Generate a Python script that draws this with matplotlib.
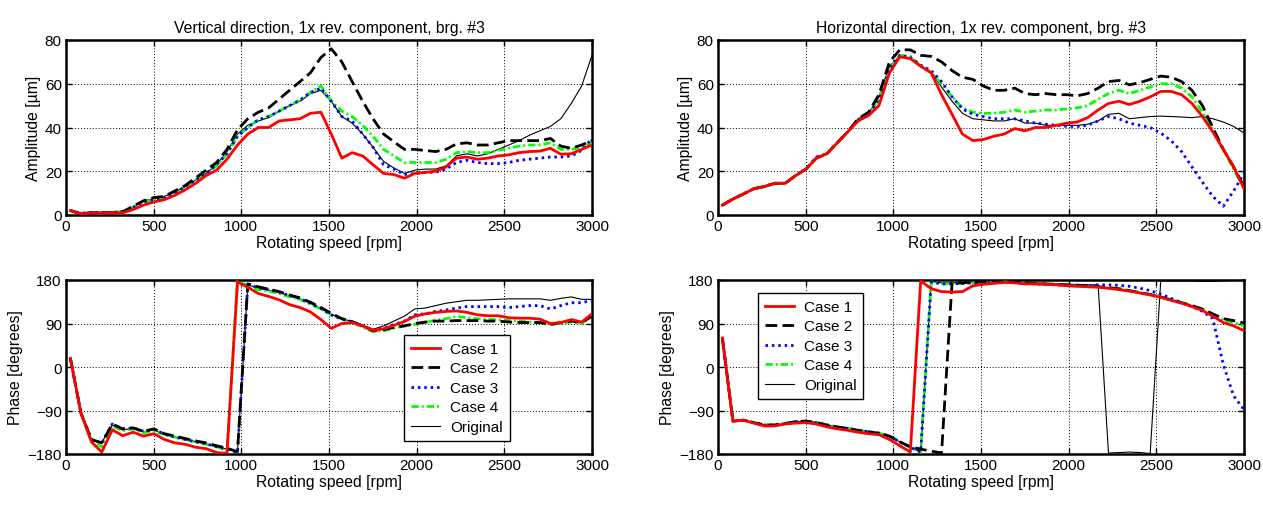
import matplotlib
matplotlib.use("Agg")
import matplotlib.pyplot as plt

plt.rcParams['font.family'] = ['Liberation Sans', 'DejaVu Sans']

# ---------------- data ----------------
rpm = [25, 85, 145, 204, 264, 323, 383, 442, 502, 561, 621, 680, 740, 799, 859,
       918, 978, 1037, 1097, 1156, 1216, 1275, 1335, 1394, 1454, 1513, 1573, 1632,
       1692, 1751, 1811, 1870, 1930, 1989, 2049, 2108, 2168, 2227, 2287, 2346, 2406,
       2465, 2525, 2584, 2644, 2703, 2763, 2822, 2882, 2941, 3000]

labels = ['Case 1', 'Case 2', 'Case 3', 'Case 4', 'Original']

# Vertical amplitude [um]
v_amp_c1 = [2, 0.5, 1, 1, 1, 1, 2.5, 4.5, 6, 7, 9, 11.5, 14.5, 18, 20.5, 25.5, 32, 37, 40, 40,
            43, 43.5, 44, 46.5, 47, 37, 26, 28.5, 27, 23, 19, 18.5, 16.8, 19, 19.5, 20, 22, 26,
            26.5, 25.5, 26, 27, 27.5, 28.5, 29, 29.2, 30.5, 27.8, 28, 30, 32]
v_amp_c2 = [2, 0.5, 1, 1, 1, 1.5, 4, 6.5, 8, 8.5, 11, 13.5, 17, 20.5, 24, 30, 39, 44, 47, 49,
            53, 57, 61, 65, 72, 76, 70, 61, 52, 44, 37, 33.5, 30, 30, 29.5, 29, 30, 32.5, 33,
            32, 32, 33, 34, 34, 34, 34, 35, 31.5, 30.5, 32, 34]
v_amp_c3 = [2, 0.8, 1.2, 1.2, 1.2, 1.5, 3.5, 6, 7, 8, 10, 13, 16, 19, 23, 28, 36, 40, 43.5, 45,
            47.5, 50, 52.5, 56, 58, 52, 45, 43, 37, 31, 23, 21, 18.5, 19, 19.5, 19.5, 21, 24,
            25, 24, 23.5, 23.5, 24, 25, 25.5, 26, 26.5, 26.5, 27, 29.5, 35]
v_amp_c4 = [2.2, 0.8, 1.2, 1.2, 1.2, 1.5, 3.5, 6, 7, 8, 10, 13, 16, 19, 22.5, 28, 36, 40, 43.5,
            45, 47.5, 50, 52.5, 56, 59, 52, 47.5, 45, 41, 36, 30, 27, 24, 24, 24, 24, 25.5,
            28.5, 29, 28.5, 28.5, 29.5, 30.5, 31.5, 32, 32, 33, 30, 30, 31, 33]
v_amp_or = [2, 0.8, 1.2, 1.2, 1.2, 1.5, 3.5, 6.5, 7.5, 8.5, 10.5, 13, 16, 19, 23, 29, 37, 41,
            43, 44.5, 47.5, 50, 52, 55.5, 57, 52, 45, 42, 37, 31, 24.5, 21.5, 19, 20.5, 21,
            21, 22.5, 27, 28, 27, 28, 30, 32, 34, 36.5, 38.5, 40.5, 44, 51, 59, 73]

# Horizontal amplitude [um]
h_amp_c1 = [4.5, 7.3, 9.6, 12, 13, 14.5, 14.5, 18, 21, 26, 28, 33, 38, 43, 45.5, 50, 65, 72.3,
            71.5, 68, 65, 55, 46, 37, 34, 34.5, 36, 37, 39.5, 38.5, 40, 40, 41, 42, 42.5,
            44.5, 48, 51, 52, 50.5, 52, 54, 56.5, 56.5, 55, 51, 45, 38, 30, 22, 12]
h_amp_c2 = [4.5, 7.3, 9.6, 12, 13, 14.5, 14.5, 18, 21, 26, 28, 33, 38, 44, 47, 55, 70, 75.5,
            75.5, 73, 72.5, 70, 66, 63, 62, 59, 57, 57, 58, 55.5, 55, 55.5, 55, 55, 54.5,
            55.5, 58, 61, 61.5, 59.5, 60.5, 62, 63.5, 63, 61, 57, 50, 40, 30, 22, 13]
h_amp_c3 = [4.5, 7.3, 9.6, 12, 13, 14.5, 14.5, 18, 21, 26.5, 28, 33, 38, 43.5, 46, 53, 67, 73,
            72, 68.5, 66, 61, 54, 48.5, 46, 45, 44, 44, 44, 43, 42, 41.5, 41, 40.5, 40.5, 41,
            43, 45, 44, 42, 41, 40, 37.5, 34, 29, 22, 15, 8.5, 4, 11, 19]
h_amp_c4 = [4.5, 7.3, 9.6, 12, 13, 14.5, 14.5, 18, 21, 26, 28, 33, 38, 43.5, 46, 53, 67, 73,
            72.5, 68, 65, 60, 54, 49, 47, 46.5, 46.5, 47, 48, 47, 47.5, 48, 48, 48.5, 49, 50,
            53, 55.5, 57, 55.5, 57, 58.5, 60, 60, 58, 54, 47, 39, 30, 21, 12]
h_amp_or = [4.5, 7.3, 9.6, 12, 13, 14.5, 14.5, 18, 21, 26, 28, 33, 38, 44, 46.5, 54, 68, 72.5,
            71.5, 68, 65.5, 58.5, 52, 46.5, 44, 43.5, 43, 43, 44, 42, 42, 41, 41, 41, 41, 41.5,
            43, 46, 46.5, 44, 44.5, 45, 45.2, 45, 44.8, 44.5, 45, 44, 42.5, 40.5, 37.5]

# Vertical phase [deg]
v_ph_c1 = [18, -95, -155, -176, -130, -142, -135, -143, -138, -150, -157, -160, -166, -169,
           -177, -179, 176, 165, 152, 146, 139, 129, 123, 114, 98, 80, 90, 92, 85, 76, 79, 86,
           94, 105, 110, 113, 115, 116, 113, 108, 106, 106, 102, 101, 101, 99, 90, 92, 98, 93, 110]
v_ph_c2 = [18, -95, -150, -157, -118, -128, -126, -133, -128, -138, -143, -148, -153, -157,
           -163, -168, -175, 172, 166, 161, 156, 149, 143, 134, 123, 111, 100, 94, 85, 75, 77,
           82, 85, 90, 93, 95, 95, 96, 96, 96, 95, 95, 93, 92, 92, 92, 88, 92, 95, 92, 105]
v_ph_c3 = [18, -95, -150, -157, -118, -128, -126, -133, -129, -139, -145, -150, -155, -159,
           -165, -170, -177, 171, 164, 160, 155, 148, 141, 132, 121, 108, 99, 94, 85, 76, 80,
           88, 95, 108, 110, 115, 118, 122, 125, 125, 125, 125, 123, 125, 127, 127, 120, 127,
           133, 133, 138]
v_ph_c4 = [18, -95, -152, -165, -122, -132, -128, -136, -132, -140, -145, -150, -155, -160,
           -165, -172, 178, 168, 160, 157, 152, 145, 140, 130, 120, 108, 100, 93, 82, 73, 75,
           80, 85, 88, 92, 97, 100, 105, 102, 100, 98, 98, 96, 95, 93, 92, 88, 90, 93, 90, 106]
v_ph_or = [18, -95, -150, -156, -120, -130, -127, -134, -130, -139, -145, -150, -155, -159,
           -165, -170, -176, 170, 163, 159, 154, 147, 141, 132, 121, 109, 100, 94, 87, 78, 85,
           95, 105, 120, 122, 127, 132, 135, 138, 138, 139, 140, 141, 141, 141, 141, 138, 142,
           145, 140, 140]

# Horizontal phase [deg]
h_ph_c1 = [60, -112, -110, -116, -122, -122, -118, -116, -115, -118, -124, -128, -131, -135,
           -138, -140, -150, -163, -176, 178, 162, 156, 155, 156, 168, 171, 173, 175, 174, 172,
           172, 171, 170, 168, 167, 166, 165, 163, 160, 157, 153, 149, 144, 138, 132, 125,
           117, 105, 92, 85, 75]
h_ph_c2 = [60, -112, -110, -115, -120, -120, -117, -113, -112, -115, -120, -124, -127, -131,
           -134, -137, -143, -155, -165, -170, -174, -178, 175, 174, 176, 176, 176, 177, 176,
           174, 173, 172, 171, 170, 169, 168, 166, 164, 162, 158, 154, 150, 145, 139, 133,
           127, 120, 110, 100, 96, 91]
h_ph_c3 = [60, -112, -110, -115, -120, -120, -117, -113, -112, -115, -120, -124, -127, -131,
           -134, -137, -143, -155, -166, -176, 176, 172, 172, 173, 174, 175, 175, 176, 175,
           173, 172, 171, 170, 169, 168, 168, 170, 170, 169, 167, 163, 158, 151, 142, 133,
           125, 115, 100, 5, -60, -88]
h_ph_c4 = [60, -112, -110, -115, -120, -120, -117, -113, -112, -115, -120, -124, -127, -131,
           -134, -137, -143, -155, -166, -176, 176, 172, 172, 173, 174, 175, 175, 176, 175,
           173, 172, 171, 170, 169, 168, 167, 166, 164, 162, 158, 154, 150, 145, 139, 133,
           127, 119, 108, 97, 92, 85]
h_ph_or = [60, -112, -110, -115, -120, -120, -117, -113, -112, -115, -120, -124, -127, -131,
           -134, -137, -143, -155, -166, -176, 177, 174, 174, 175, 176, 176, 176, 177, 176,
           175, 174, 173, 172, 171, 171, 170, 170, -178, -177, -176, -177, -179, 178, 178,
           178, 178, 177, 177, 178, 179, 179]

# ---------------- styling ----------------
styles = [
    dict(color='#ff0000', lw=2.0, ls='-'),
    dict(color='#000000', lw=2.0, ls=(0, (4.2, 1.9))),
    dict(color='#0000ff', lw=2.0, ls=(0, (0.9, 1.4))),
    dict(color='#00ff00', lw=2.0, ls=(0, (2.6, 1.1, 0.7, 1.1))),
    dict(color='#000000', lw=0.8, ls='-'),
]

W, H = 1263, 506
fig = plt.figure(figsize=(W / 100, H / 100), dpi=100)


def make_ax(x0, y0, x1, y1):
    return fig.add_axes([x0 / W, 1 - y1 / H, (x1 - x0) / W, (y1 - y0) / H])


def style_ax(ax, ylim, yticks, ylabel):
    ax.set_xlim(0, 3000)
    ax.set_ylim(*ylim)
    ax.set_xticks([0, 500, 1000, 1500, 2000, 2500, 3000])
    ax.set_yticks(yticks)
    ax.grid(True, color='black', ls=(0, (1, 2)), lw=0.7)
    ax.tick_params(direction='in', top=True, right=True, length=4, width=1,
                   labelsize=11, pad=3)
    for s in ax.spines.values():
        s.set_linewidth(1.8)
    ax.set_xlabel('Rotating speed [rpm]', fontsize=11.3, labelpad=1.5)
    ax.set_ylabel(ylabel, fontsize=11.3, labelpad=3)


axes = [
    make_ax(66, 41, 592, 216),
    make_ax(718, 41, 1244, 216),
    make_ax(66, 281, 592, 455),
    make_ax(718, 281, 1244, 455),
]

series = [
    [v_amp_c1, v_amp_c2, v_amp_c3, v_amp_c4, v_amp_or],
    [h_amp_c1, h_amp_c2, h_amp_c3, h_amp_c4, h_amp_or],
    [v_ph_c1, v_ph_c2, v_ph_c3, v_ph_c4, v_ph_or],
    [h_ph_c1, h_ph_c2, h_ph_c3, h_ph_c4, h_ph_or],
]

draw_order = [4, 2, 3, 1, 0]
all_handles = []
for ax, group in zip(axes, series):
    handles = {}
    for i in draw_order:
        st = styles[i]
        ln, = ax.plot(rpm, group[i], color=st['color'], lw=st['lw'], ls=st['ls'],
                      label=labels[i], zorder=3 + (4 - i) * 0.1)
        handles[i] = ln
    all_handles.append([handles[i] for i in range(5)])

style_ax(axes[0], (0, 80), [0, 20, 40, 60, 80], 'Amplitude [\u00b5m]')
style_ax(axes[1], (0, 80), [0, 20, 40, 60, 80], 'Amplitude [\u00b5m]')
style_ax(axes[2], (-180, 180), [-180, -90, 0, 90, 180], 'Phase [degrees]')
style_ax(axes[3], (-180, 180), [-180, -90, 0, 90, 180], 'Phase [degrees]')

axes[0].set_title('Vertical direction, 1x rev. component, brg. #3', fontsize=11.3, pad=6)
axes[1].set_title('Horizontal direction, 1x rev. component, brg. #3', fontsize=11.3, pad=6)

leg_kw = dict(fontsize=11, handlelength=1.9, handletextpad=0.65, labelspacing=0.36,
              borderpad=0.45, borderaxespad=0, fancybox=False, framealpha=1,
              edgecolor='black')
lg = axes[2].legend(handles=all_handles[2], labels=labels, loc='upper left',
                    bbox_to_anchor=(0.643, 0.684), **leg_kw)
lg.get_frame().set_linewidth(1.0)
lg.set_zorder(10)
lg2 = axes[3].legend(handles=all_handles[3], labels=labels, loc='upper left',
                     bbox_to_anchor=(0.076, 0.925), **leg_kw)
lg2.get_frame().set_linewidth(1.0)
lg2.set_zorder(10)

fig.savefig('out.png', dpi=100)
